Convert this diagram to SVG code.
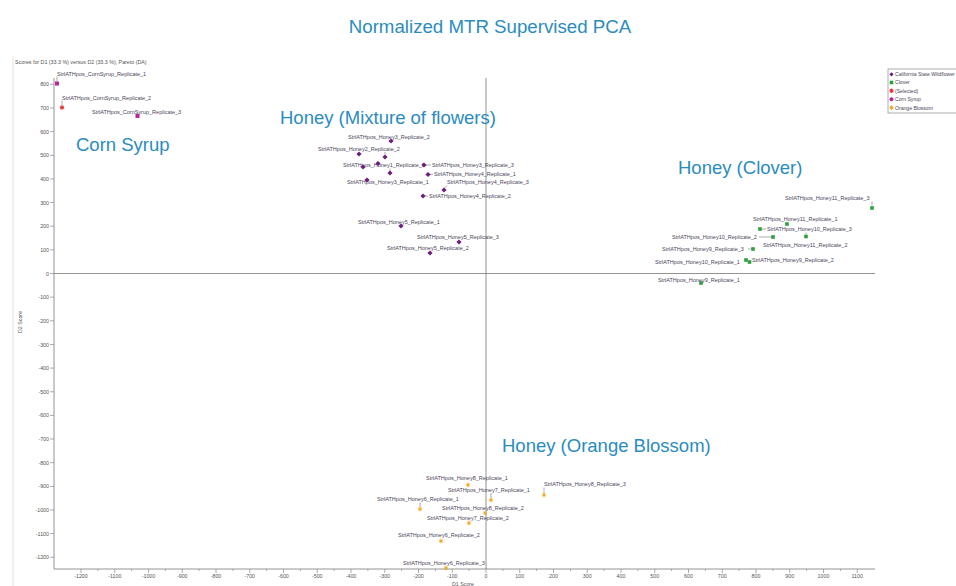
<svg xmlns="http://www.w3.org/2000/svg" width="956" height="586" viewBox="0 0 956 586">
<style>
.title{font-family:"Liberation Sans",Arial,sans-serif;font-size:18.7px;fill:#2b8cbe}
.group{font-family:"Liberation Sans",Arial,sans-serif;font-size:18.5px;fill:#2b8cbe}
.lbl{font-family:"Liberation Sans",Arial,sans-serif;font-size:5.5px;fill:#4a4458}
.leg{font-family:"Liberation Sans",Arial,sans-serif;font-size:5.1px;fill:#4a4458}
.tick{font-family:"Liberation Sans",Arial,sans-serif;font-size:5.3px;fill:#555}
.axis{stroke:#888;stroke-width:0.9;fill:none}
.zero{stroke:#777;stroke-width:0.8;fill:none}
.tk{stroke:#888;stroke-width:0.7}
.stem{stroke:#555;stroke-width:0.5;fill:none}
</style>
<defs>
<path id="dia" d="M0,-2.6 L2.6,0 L0,2.6 L-2.6,0Z" fill="#6b1f7c"/>
<rect id="sq" x="-1.8" y="-1.8" width="3.6" height="3.6" fill="#2e9e3e"/>
<rect id="cs" x="-2" y="-2" width="4" height="4" fill="#b8289a"/>
<circle id="csc" r="2" fill="#b8289a"/>
<path id="sel" d="M-2.2,0H2.2M0,-2.2V2.2M-1.6,-1.6L1.6,1.6M1.6,-1.6L-1.6,1.6" stroke="#e83a3a" stroke-width="1.1"/>
<path id="ob" d="M-2,0H2M0,-2.4V2.4M-1.4,-1.4L1.4,1.4M1.4,-1.4L-1.4,1.4" stroke="#f5a623" stroke-width="1"/>
</defs>

<rect x="0" y="0" width="956" height="586" fill="#fff"/>
<line x1="13" y1="56" x2="13" y2="586" stroke="#e2e2e2" stroke-width="1"/>

<text class="title" x="490" y="33" text-anchor="middle">Normalized MTR Supervised PCA</text>
<text class="tick" x="15" y="64">Scores for D1 (33.3 %) versus D2 (33.3 %), Pareto (DA)</text>

<g id="axes">
<line class="axis" x1="54" y1="78" x2="54" y2="569"/>
<line class="axis" x1="54" y1="569" x2="875" y2="569"/>
<line class="zero" x1="54" y1="273.5" x2="875" y2="273.5"/>
<line class="zero" x1="486" y1="78" x2="486" y2="569"/>
<g class="tk">
<path d="M50,84.3H54M50,108H54M50,131.6H54M50,155.3H54M50,178.9H54M50,202.5H54M50,226.2H54M50,249.8H54M50,273.5H54M50,297.2H54M50,320.8H54M50,344.5H54M50,368.1H54M50,391.8H54M50,415.4H54M50,439H54M50,462.7H54M50,486.4H54M50,510H54M50,533.6H54M50,557.3H54"/>
<path d="M81,569V573M114.75,569V573M148.5,569V573M182.25,569V573M216,569V573M249.75,569V573M283.5,569V573M317.25,569V573M351,569V573M384.75,569V573M418.5,569V573M452.25,569V573M486,569V573M519.75,569V573M553.5,569V573M587.25,569V573M621,569V573M654.75,569V573M688.5,569V573M722.25,569V573M756,569V573M789.75,569V573M823.5,569V573M857.25,569V573"/>
<path d="M97.9,569V571M131.6,569V571M165.4,569V571M199.1,569V571M232.9,569V571M266.6,569V571M300.4,569V571M334.1,569V571M367.9,569V571M401.6,569V571M435.4,569V571M469.1,569V571M502.9,569V571M536.6,569V571M570.4,569V571M604.1,569V571M637.9,569V571M671.6,569V571M705.4,569V571M739.1,569V571M772.9,569V571M806.6,569V571M840.4,569V571"/>
</g>
<g class="tick" text-anchor="end">
<text x="49" y="86.3">800</text><text x="49" y="110">700</text><text x="49" y="133.6">600</text><text x="49" y="157.3">500</text><text x="49" y="180.9">400</text><text x="49" y="204.5">300</text><text x="49" y="228.2">200</text><text x="49" y="251.8">100</text><text x="49" y="275.5">0</text><text x="49" y="299.2">-100</text><text x="49" y="322.8">-200</text><text x="49" y="346.5">-300</text><text x="49" y="370.1">-400</text><text x="49" y="393.8">-500</text><text x="49" y="417.4">-600</text><text x="49" y="441">-700</text><text x="49" y="464.7">-800</text><text x="49" y="488.4">-900</text><text x="49" y="512">-1000</text><text x="49" y="535.6">-1100</text><text x="49" y="559.3">-1200</text>
</g>
<g class="tick" text-anchor="middle">
<text x="81" y="578">-1200</text><text x="114.75" y="578">-1100</text><text x="148.5" y="578">-1000</text><text x="182.25" y="578">-900</text><text x="216" y="578">-800</text><text x="249.75" y="578">-700</text><text x="283.5" y="578">-600</text><text x="317.25" y="578">-500</text><text x="351" y="578">-400</text><text x="384.75" y="578">-300</text><text x="418.5" y="578">-200</text><text x="452.25" y="578">-100</text><text x="486" y="578">0</text><text x="519.75" y="578">100</text><text x="553.5" y="578">200</text><text x="587.25" y="578">300</text><text x="621" y="578">400</text><text x="654.75" y="578">500</text><text x="688.5" y="578">600</text><text x="722.25" y="578">700</text><text x="756" y="578">800</text><text x="789.75" y="578">900</text><text x="823.5" y="578">1000</text><text x="857.25" y="578">1100</text>
</g>
<text class="tick" x="463" y="586" text-anchor="middle">D1 Score</text>
<text class="tick" transform="translate(22,322) rotate(-90)" text-anchor="middle">D2 Score</text>
</g>

<g id="group-labels">
<text class="group" x="76" y="151">Corn Syrup</text>
<text class="group" x="280" y="124">Honey (Mixture of flowers)</text>
<text class="group" x="678" y="174">Honey (Clover)</text>
<text class="group" x="502" y="452">Honey (Orange Blossom)</text>
</g>

<g id="connectors">
<path class="stem" d="M57,76.5V81.5M62,100.5V105M385,152V154.5M390,168.5V171M426,165H431M430,174.4H433M444.5,188L447,185.5M425,196H428M872,201.5V205.5M762,229H766M759,237H771M806,232.5V234.5M748,249H751M491,493V498M544,487.5V493M420,502.5V507"/>
</g>

<g id="corn-syrup">
<text class="lbl" x="57" y="75.5">StrlATHpos_CornSyrup_Replicate_1</text>
<text class="lbl" x="62" y="99.5">StrlATHpos_CornSyrup_Replicate_2</text>
<text class="lbl" x="92" y="113.5">StrlATHpos_CornSyrup_Replicate_3</text>
<use href="#cs" x="57" y="83.5"/>
<use href="#sel" x="62" y="107.5"/>
<use href="#cs" x="137.5" y="116"/>
</g>

<g id="honey-mixture">
<text class="lbl" x="348" y="139">StrlATHpos_Honey3_Replicate_2</text>
<text class="lbl" x="318" y="151">StrlATHpos_Honey2_Replicate_2</text>
<text class="lbl" x="343" y="167">StrlATHpos_Honey1_Replicate_1</text>
<text class="lbl" x="432" y="166.5">StrlATHpos_Honey3_Replicate_3</text>
<text class="lbl" x="434" y="175.5">StrlATHpos_Honey4_Replicate_1</text>
<text class="lbl" x="347" y="184">StrlATHpos_Honey3_Replicate_1</text>
<text class="lbl" x="447" y="184">StrlATHpos_Honey4_Replicate_3</text>
<text class="lbl" x="429" y="197.5">StrlATHpos_Honey4_Replicate_2</text>
<text class="lbl" x="358" y="224">StrlATHpos_Honey5_Replicate_1</text>
<text class="lbl" x="417" y="239">StrlATHpos_Honey5_Replicate_3</text>
<text class="lbl" x="387" y="250">StrlATHpos_Honey5_Replicate_2</text>
<use href="#dia" x="391" y="141"/>
<use href="#dia" x="359" y="154"/>
<use href="#dia" x="385" y="157"/>
<use href="#dia" x="363" y="167"/>
<use href="#dia" x="378" y="163.5"/>
<use href="#dia" x="390" y="173"/>
<use href="#dia" x="424" y="165"/>
<use href="#dia" x="428" y="174.5"/>
<use href="#dia" x="367" y="180"/>
<use href="#dia" x="444" y="190"/>
<use href="#dia" x="423" y="196"/>
<use href="#dia" x="401" y="226"/>
<use href="#dia" x="459" y="242"/>
<use href="#dia" x="430" y="253"/>
</g>

<g id="honey-clover">
<text class="lbl" x="785" y="200">StrlATHpos_Honey11_Replicate_3</text>
<text class="lbl" x="753" y="221">StrlATHpos_Honey11_Replicate_1</text>
<text class="lbl" x="767" y="231">StrlATHpos_Honey10_Replicate_3</text>
<text class="lbl" x="672" y="239">StrlATHpos_Honey10_Replicate_2</text>
<text class="lbl" x="763" y="247">StrlATHpos_Honey11_Replicate_2</text>
<text class="lbl" x="662" y="251">StrlATHpos_Honey9_Replicate_3</text>
<text class="lbl" x="655" y="264">StrlATHpos_Honey10_Replicate_1</text>
<text class="lbl" x="752" y="262">StrlATHpos_Honey9_Replicate_2</text>
<text class="lbl" x="658" y="282">StrlATHpos_Honey9_Replicate_1</text>
<use href="#sq" x="872" y="208"/>
<use href="#sq" x="787" y="224"/>
<use href="#sq" x="760" y="229"/>
<use href="#sq" x="773" y="237"/>
<use href="#sq" x="806" y="236.5"/>
<use href="#sq" x="753" y="249"/>
<use href="#sq" x="746" y="260"/>
<use href="#sq" x="749.5" y="262"/>
<use href="#sq" x="701" y="283"/>
</g>

<g id="honey-orange-blossom">
<text class="lbl" x="426" y="480">StrlATHpos_Honey8_Replicate_1</text>
<text class="lbl" x="448" y="492">StrlATHpos_Honey7_Replicate_1</text>
<text class="lbl" x="544" y="486">StrlATHpos_Honey8_Replicate_3</text>
<text class="lbl" x="377" y="501">StrlATHpos_Honey6_Replicate_1</text>
<text class="lbl" x="442" y="510">StrlATHpos_Honey8_Replicate_2</text>
<text class="lbl" x="427" y="520">StrlATHpos_Honey7_Replicate_2</text>
<text class="lbl" x="398" y="537">StrlATHpos_Honey6_Replicate_2</text>
<text class="lbl" x="403" y="565">StrlATHpos_Honey6_Replicate_3</text>
<use href="#ob" x="468" y="485"/>
<use href="#ob" x="491" y="500"/>
<use href="#ob" x="544" y="495"/>
<use href="#ob" x="420" y="509"/>
<use href="#ob" x="485" y="513"/>
<use href="#ob" x="469" y="523"/>
<use href="#ob" x="441" y="541"/>
<use href="#ob" x="446" y="568"/>
</g>

<g id="legend">
<rect x="888" y="69" width="80" height="44" fill="#fff" stroke="#999" stroke-width="0.8"/>
<path d="M891.5,72.2 L893.6,74.3 L891.5,76.4 L889.4,74.3Z" fill="#6b1f7c"/>
<use href="#sq" x="891.5" y="82.5"/>
<use href="#sel" x="891.5" y="90.8"/>
<use href="#csc" x="891.5" y="99.2"/>
<use href="#ob" x="891.5" y="107.6"/>
<text class="leg" x="895" y="76.2">California State Wildflower</text>
<text class="leg" x="895" y="84.4">Clover</text>
<text class="leg" x="895" y="92.7">(Selected)</text>
<text class="leg" x="895" y="101.1">Corn Syrup</text>
<text class="leg" x="895" y="109.5">Orange Blossom</text>
</g>
</svg>
